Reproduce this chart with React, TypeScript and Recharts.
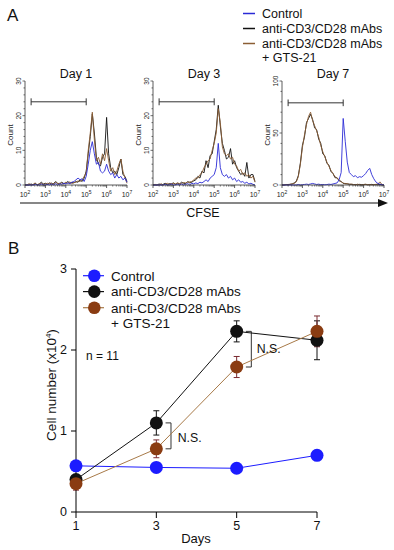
import React from 'react';
import { LineChart, Line, XAxis, YAxis, ReferenceLine, ErrorBar } from 'recharts';

const FONT = '"Liberation Sans", Arial, Helvetica, sans-serif';

// ─── Panel A: CFSE histograms (x in log10 units) ─────────────────────────────

const CFSE_LOG = [
  2.0, 2.1, 2.2, 2.3, 2.4, 2.5, 2.6, 2.7, 2.8, 2.9,
  3.0, 3.1, 3.2, 3.3, 3.4, 3.5, 3.6, 3.7, 3.8, 3.9,
  4.0, 4.1, 4.2, 4.3, 4.4, 4.5, 4.6, 4.7, 4.8, 4.9,
  5.0, 5.1, 5.2, 5.3, 5.4, 5.5, 5.6, 5.7, 5.8, 5.9,
  6.0, 6.1, 6.2, 6.3, 6.4, 6.5, 6.6, 6.7, 6.8, 6.9,
  7.0,
];

const DAY1_CONTROL = [
  0, 0, 0, 0, 0, 0.2, 0, 0, 0.3, 0,
  0, 0.2, 0, 0.3, 0, 0.4, 0, 0.3, 0.2, 0.5,
  0.3, 0.6, 0.4, 0.8, 1, 1.5, 2, 1.5, 1.8, 1,
  2.5, 6, 10, 12.5, 9, 6, 6.5, 4, 3.5, 4,
  6, 4, 3, 3.5, 2, 3, 2, 2.5, 1.5, 2,
  0.8,
];
const DAY1_ANTI = [
  0, 0, 0, 0.3, 0, 0.5, 0, 0.3, 0.8, 0.3,
  0.5, 0.2, 0.6, 0.3, 0.4, 1, 0.5, 0.3, 0.8, 0.4,
  0.6, 1, 0.5, 0.8, 0.6, 1, 0.8, 1.5, 1, 2,
  4, 9, 14, 20.5, 15, 8, 6, 5.5, 8, 9,
  19.5, 9, 5, 3.5, 4, 3, 5, 7.5, 3, 2.5,
  1,
];
const DAY1_GTS = [
  0, 0, 0.4, 0, 0.2, 0.6, 0, 0.4, 0.5, 0.2,
  0.3, 0.5, 0.4, 0.6, 0.2, 0.8, 0.4, 0.5, 0.6, 0.3,
  0.8, 0.5, 0.9, 0.4, 0.7, 0.8, 1.2, 1, 1.5, 2.5,
  3.5, 10, 15, 21, 13, 7, 8, 6, 9, 7,
  10.5, 7, 4, 5, 3, 4, 6, 7.5, 4, 2,
  0.5,
];

const DAY3_CONTROL = [
  0, 0, 0, 0, 0, 0, 0.2, 0, 0, 0.3,
  0, 0, 0.2, 0, 0.3, 0, 0.2, 0.4, 0, 0.5,
  0.3, 0.6, 0.4, 0.8, 0.6, 1, 1.5, 1, 2, 2.5,
  3, 5, 12, 5, 3, 2.5, 3, 2, 2.5, 1.5,
  2, 1, 1.5, 0.8, 1, 0.5, 0.8, 0.3, 0.5, 0.2,
  0,
];
const DAY3_ANTI = [
  0, 0, 0, 0.3, 0, 0.2, 0.5, 0, 0.4, 0.3,
  0.6, 0.2, 0.5, 0.3, 0.8, 0.5, 0.4, 1, 0.6, 0.8,
  1.2, 1.5, 2.5, 2, 4, 3.5, 7, 5, 8.5, 9,
  12.5, 16, 23, 17, 12, 10, 7.5, 8, 10.5, 6,
  7, 5, 4, 3, 3.5, 2.5, 6.5, 2, 3, 3,
  1,
];
const DAY3_GTS = [
  0, 0.2, 0, 0, 0.4, 0, 0.3, 0.5, 0.2, 0.4,
  0.5, 0.3, 0.6, 0.4, 0.5, 0.7, 0.6, 0.8, 0.9, 1,
  1.5, 2, 2, 3, 3.5, 5, 6, 7, 7.5, 10,
  12, 15, 22, 18, 11, 9, 8.5, 9, 7.5, 8,
  6, 5.5, 4, 4.5, 3, 3.5, 2.5, 3, 2, 2.5,
  0.8,
];

const DAY7_CONTROL = [
  0, 0, 0, 0, 0, 0, 0, 0, 0.5, 0,
  0.3, 0.5, 0.8, 0.5, 1, 1.5, 1, 0.5, 0.8, 0.3,
  0.5, 0.2, 0.4, 0.8, 0.5, 1, 1.5, 2, 5, 12,
  64, 42, 22, 12, 10, 8, 9, 7, 8, 7.5,
  9, 11, 14, 16, 10, 6, 3, 1.5, 0.8, 0.3,
  0,
];
const DAY7_ANTI = [
  0, 0, 0.3, 0.5, 0.6, 1, 2, 3.5, 9, 21,
  38, 46, 60, 64, 68, 63, 55, 53, 44, 40,
  30, 28, 21, 19, 13, 11, 7, 7, 4, 3.5,
  1.5, 1.5, 1, 0.8, 0.5, 0.3, 0.5, 0.2, 0.6, 0.4,
  0.3, 0.5, 0.2, 0.3, 0.6, 0.2, 0.4, 0.3, 0.5, 0.2,
  0,
];
const DAY7_GTS = [
  0, 0, 0.5, 0, 0.8, 1, 1.5, 3, 8, 20,
  36, 48, 58, 66, 70, 62, 57, 52, 46, 38,
  32, 27, 22, 18, 14, 11, 8, 6.5, 5, 3,
  2, 1, 1.5, 0.5, 1, 0.5, 0, 0.8, 0.3, 0,
  0.5, 0.8, 0.2, 0.5, 0, 0.4, 0.6, 1, 3, 0.5,
  0,
];

const HIST_X_MAJOR = [2, 3, 4, 5, 6, 7];
const HIST_X_EXPONENTS = ['2', '3', '4', '5', '6', '7'];
const HIST_X_TICKS = [
  ...HIST_X_MAJOR,
  ...HIST_X_MAJOR.slice(0, -1).flatMap((n) =>
    [2, 3, 4, 5, 6, 7, 8, 9].map((k) => n + Math.log10(k)),
  ),
].sort((a, b) => a - b);

const COUNT30_TICKS = [0, 2, 4, 6, 8, 10, 12, 14, 16, 18, 20, 22, 24, 26, 28, 30];
const COUNT100_TICKS = [0, 10, 20, 30, 40, 50, 60, 70, 80, 90, 100];

const GATE_FROM = 2.3;
const GATE_TO = 5.0;

// ─── Panel B: cell number ─────────────────────────────────────────────────────

const DAYS = [1, 3, 5, 7];
const CONTROL_CELLS = [0.57, 0.55, 0.54, 0.7];
const ANTI_CELLS = [0.4, 1.1, 2.23, 2.12];
const ANTI_ERR = [0.05, 0.15, 0.13, 0.24];
const GTS_CELLS = [0.35, 0.78, 1.79, 2.23];
const GTS_ERR = [0.08, 0.11, 0.13, 0.19];
const CELL_Y_TICKS = [0, 1, 2, 3];

const NS_DAYS = [3, 5];

const BLUE = '#2a2ad6';
const BLUE_B = '#1c1cff';
const BLACK = '#111111';
const BROWN_HIST = '#8b5e34';
const GTS_MARK = '#8a3c12';
const GTS_LINE = '#a87a48';
const GTS_ERRC = '#7a2a30';

// ─── Ticks ────────────────────────────────────────────────────────────────────

function LogTick(props: any) {
  const { x, y, payload } = props;
  const v = payload.value as number;
  const idx = HIST_X_MAJOR.findIndex((m) => Math.abs(m - v) < 1e-6);
  if (idx < 0) {
    return <line x1={x} x2={x} y1={y} y2={y + 1.6} stroke="#333" strokeWidth={0.6} />;
  }
  return (
    <g>
      <line x1={x} x2={x} y1={y} y2={y + 3} stroke="#333" strokeWidth={0.8} />
      <text x={x} y={y + 11.5} textAnchor="middle" fontSize={7} fill="#222" fontFamily={FONT}>
        10
        <tspan dy={-3} fontSize={5}>
          {HIST_X_EXPONENTS[idx]}
        </tspan>
      </text>
    </g>
  );
}

function makeCountTick(labelStep: number) {
  return (props: any) => {
    const { x, y, payload } = props;
    const v = payload.value as number;
    const major = v % labelStep === 0;
    return (
      <g>
        <line x1={x - (major ? 2.5 : 1.5)} x2={x} y1={y} y2={y} stroke="#333" strokeWidth={0.7} />
        {major && (
          <text
            x={x - 4}
            y={y}
            transform={`rotate(-90 ${x - 4} ${y})`}
            textAnchor="middle"
            fontSize={6.5}
            fill="#222"
            fontFamily={FONT}
          >
            {v}
          </text>
        )}
      </g>
    );
  };
}

// ─── Histogram ────────────────────────────────────────────────────────────────

interface HistProps {
  left: number;
  control: number[];
  anti: number[];
  gts: number[];
  yMax: number;
  yTicks: number[];
  labelStep: number;
  gateY: number;
  capHalf: number;
}

function Histogram({ left, control, anti, gts, yMax, yTicks, labelStep, gateY, capHalf }: HistProps) {
  const rows = CFSE_LOG.map((x, i) => ({ x, control: control[i], anti: anti[i], gts: gts[i] }));
  return (
    <div style={{ position: 'absolute', left, top: 75 }}>
      <LineChart width={130} height={130} data={rows} margin={{ top: 6, right: 8, bottom: 0, left: 0 }}>
        <XAxis
          type="number"
          dataKey="x"
          domain={[2, 7]}
          ticks={HIST_X_TICKS}
          interval={0}
          tick={LogTick}
          tickLine={false}
          tickSize={0}
          tickMargin={0}
          height={20}
          axisLine={{ stroke: '#333', strokeWidth: 0.8 }}
        />
        <YAxis
          type="number"
          domain={[0, yMax]}
          ticks={yTicks}
          interval={0}
          tick={makeCountTick(labelStep)}
          tickLine={false}
          tickSize={0}
          tickMargin={0}
          width={20}
          axisLine={{ stroke: '#333', strokeWidth: 0.8 }}
        />
        <ReferenceLine segment={[{ x: GATE_FROM, y: gateY }, { x: GATE_TO, y: gateY }]} stroke="#333" strokeWidth={1} />
        <ReferenceLine segment={[{ x: GATE_FROM, y: gateY - capHalf }, { x: GATE_FROM, y: gateY + capHalf }]} stroke="#333" strokeWidth={1} />
        <ReferenceLine segment={[{ x: GATE_TO, y: gateY - capHalf }, { x: GATE_TO, y: gateY + capHalf }]} stroke="#333" strokeWidth={1} />
        <Line type="linear" dataKey="anti" stroke={BLACK} strokeWidth={0.9} dot={false} isAnimationActive={false} />
        <Line type="linear" dataKey="gts" stroke={BROWN_HIST} strokeWidth={0.9} dot={false} isAnimationActive={false} />
        <Line type="linear" dataKey="control" stroke={BLUE} strokeWidth={0.9} dot={false} isAnimationActive={false} />
      </LineChart>
    </div>
  );
}

// ─── Cell number chart ────────────────────────────────────────────────────────

function CellChart() {
  const rows = DAYS.map((day, i) => ({
    day,
    control: CONTROL_CELLS[i],
    anti: ANTI_CELLS[i],
    antiErr: ANTI_ERR[i],
    gts: GTS_CELLS[i],
    gtsErr: GTS_ERR[i],
  }));
  const bracket = (day: number, k: number) => {
    const i = DAYS.indexOf(day);
    const top = ANTI_CELLS[i];
    const bottom = GTS_CELLS[i];
    const xv = day + 0.365;
    const xh = day + 0.23;
    return [
      <ReferenceLine key={`v${k}`} segment={[{ x: xv, y: top }, { x: xv, y: bottom }]} stroke="#333" strokeWidth={1} />,
      <ReferenceLine key={`t${k}`} segment={[{ x: xh, y: top }, { x: xv, y: top }]} stroke="#333" strokeWidth={1} />,
      <ReferenceLine key={`b${k}`} segment={[{ x: xh, y: bottom }, { x: xv, y: bottom }]} stroke="#333" strokeWidth={1} />,
    ];
  };
  return (
    <div style={{ position: 'absolute', left: 0, top: 255 }}>
      <LineChart width={330} height={295} data={rows} margin={{ top: 14, right: 13, bottom: 0, left: 0 }}>
        <XAxis
          type="number"
          dataKey="day"
          domain={[1, 7]}
          ticks={DAYS}
          interval={0}
          tickSize={6}
          tickMargin={3}
          height={38}
          axisLine={{ stroke: '#000' }}
          tickLine={{ stroke: '#000' }}
          tick={{ fill: '#111', fontSize: 12.5, fontFamily: FONT }}
        />
        <YAxis
          type="number"
          domain={[0, 3]}
          ticks={CELL_Y_TICKS}
          interval={0}
          tickSize={5}
          tickMargin={4}
          width={76}
          axisLine={{ stroke: '#000' }}
          tickLine={{ stroke: '#000' }}
          tick={{ fill: '#111', fontSize: 12.5, fontFamily: FONT }}
        />
        {NS_DAYS.flatMap((d, k) => bracket(d, k))}
        <Line
          type="linear"
          dataKey="control"
          stroke={BLUE_B}
          strokeWidth={1}
          dot={{ r: 6.5, fill: BLUE_B, stroke: BLUE_B, strokeWidth: 0 }}
          isAnimationActive={false}
        />
        <Line
          type="linear"
          dataKey="anti"
          stroke={BLACK}
          strokeWidth={1}
          dot={{ r: 6.5, fill: BLACK, stroke: BLACK, strokeWidth: 0 }}
          isAnimationActive={false}
        >
          <ErrorBar dataKey="antiErr" width={3} stroke={BLACK} strokeWidth={1} direction="y" />
        </Line>
        <Line
          type="linear"
          dataKey="gts"
          stroke={GTS_LINE}
          strokeWidth={1}
          dot={{ r: 6.5, fill: GTS_MARK, stroke: GTS_MARK, strokeWidth: 0 }}
          isAnimationActive={false}
        >
          <ErrorBar dataKey="gtsErr" width={3} stroke={GTS_ERRC} strokeWidth={1} direction="y" />
        </Line>
      </LineChart>
    </div>
  );
}

// ─── Static text / annotations ────────────────────────────────────────────────

const LEGEND_A = [
  { label: 'Control', color: BLUE, y: 13.5 },
  { label: 'anti-CD3/CD28 mAbs', color: BLACK, y: 28.5 },
  { label: 'anti-CD3/CD28 mAbs', color: BROWN_HIST, y: 43.5 },
];
const LEGEND_B = [
  { label: 'Control', color: BLUE_B, line: BLUE_B, y: 275.7 },
  { label: 'anti-CD3/CD28 mAbs', color: BLACK, line: BLACK, y: 291.6 },
  { label: 'anti-CD3/CD28 mAbs', color: GTS_MARK, line: GTS_LINE, y: 307.7 },
];
const DAY_TITLES = [
  { label: 'Day 1', x: 76 },
  { label: 'Day 3', x: 204 },
  { label: 'Day 7', x: 333 },
];
const COUNT_X = [12.5, 141, 269.5];

function Overlay() {
  return (
    <svg
      width={394}
      height={550}
      style={{ position: 'absolute', left: 0, top: 0, pointerEvents: 'none' }}
      fontFamily={FONT}
    >
      <text x={7} y={20.5} fontSize={17} fill="#111">A</text>
      {LEGEND_A.map((r, i) => (
        <g key={i}>
          <line x1={243} x2={255} y1={r.y} y2={r.y} stroke={r.color} strokeWidth={1.5} />
          <text x={262} y={r.y + 4.4} fontSize={12.5} fill="#111">{r.label}</text>
        </g>
      ))}
      <text x={262} y={61.7} fontSize={12.5} fill="#111">+ GTS-21</text>
      {DAY_TITLES.map((d) => (
        <text key={d.label} x={d.x} y={77.5} fontSize={12.5} textAnchor="middle" fill="#111">
          {d.label}
        </text>
      ))}
      {COUNT_X.map((x, i) => (
        <text
          key={i}
          x={x}
          y={135}
          transform={`rotate(-90 ${x} 135)`}
          textAnchor="middle"
          fontSize={8}
          fill="#222"
        >
          Count
        </text>
      ))}
      <line x1={20} x2={380} y1={203} y2={203} stroke="#111" strokeWidth={1.2} />
      <polygon points="378,199 388,203 378,207" fill="#111" />
      <text x={203} y={217} fontSize={12.5} textAnchor="middle" fill="#111">CFSE</text>

      <text x={8} y={254} fontSize={17} fill="#111">B</text>
      {LEGEND_B.map((r, i) => (
        <g key={i}>
          <line x1={83} x2={104} y1={r.y} y2={r.y} stroke={r.line} strokeWidth={1.2} />
          <circle cx={94.3} cy={r.y} r={6.3} fill={r.color} />
          <text x={111} y={r.y + 4.8} fontSize={13.5} fill="#111">{r.label}</text>
        </g>
      ))}
      <text x={111} y={328.1} fontSize={13.5} fill="#111">+ GTS-21</text>
      <text x={86} y={359.5} fontSize={12} fill="#111">n = 11</text>
      <text x={177.7} y={441.5} fontSize={12.3} fill="#111">N.S.</text>
      <text x={256.7} y={352.5} fontSize={12.3} fill="#111">N.S.</text>
      <text
        x={56}
        y={385}
        transform="rotate(-90 56 385)"
        textAnchor="middle"
        fontSize={13.5}
        fill="#111"
      >
        Cell number (x10<tspan dy={-5} fontSize={8}>4</tspan><tspan dy={5}>)</tspan>
      </text>
      <text x={196} y={543} fontSize={13} textAnchor="middle" fill="#111">Days</text>
    </svg>
  );
}

export default function App() {
  return (
    <div style={{ position: 'absolute', left: 0, top: 0, width: 394, height: 550, background: '#fff' }}>
      <Histogram
        left={5}
        control={DAY1_CONTROL}
        anti={DAY1_ANTI}
        gts={DAY1_GTS}
        yMax={30}
        yTicks={COUNT30_TICKS}
        labelStep={10}
        gateY={24}
        capHalf={1}
      />
      <Histogram
        left={133}
        control={DAY3_CONTROL}
        anti={DAY3_ANTI}
        gts={DAY3_GTS}
        yMax={30}
        yTicks={COUNT30_TICKS}
        labelStep={10}
        gateY={24}
        capHalf={1}
      />
      <Histogram
        left={262}
        control={DAY7_CONTROL}
        anti={DAY7_ANTI}
        gts={DAY7_GTS}
        yMax={100}
        yTicks={COUNT100_TICKS}
        labelStep={50}
        gateY={79}
        capHalf={3.2}
      />
      <CellChart />
      <Overlay />
    </div>
  );
}
